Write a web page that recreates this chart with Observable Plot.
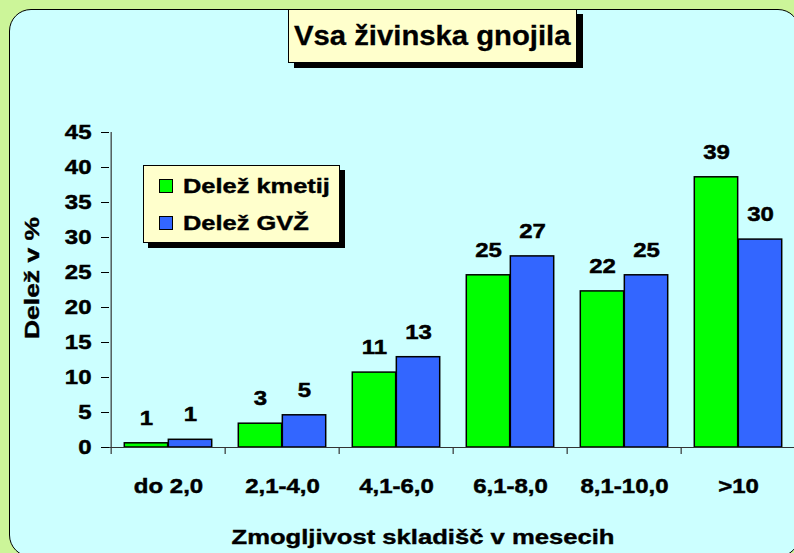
<!DOCTYPE html>
<html>
<head>
<meta charset="utf-8">
<script src="https://cdn.jsdelivr.net/npm/d3@7"></script>
<script src="https://cdn.jsdelivr.net/npm/@observablehq/plot@0.6"></script>
<style>
  html, body { margin: 0; padding: 0; overflow: hidden; background: #CCF599; }
  #wrap { width: 794px; height: 553px; overflow: hidden; position: relative; background: #CCF599;
         font-family: "Liberation Sans", Arial, sans-serif; font-weight: bold; color: #000; }
  #panel { position: absolute; left: 9px; top: 9px; width: 791px; height: 548px; box-sizing: border-box;
           background: #CCFFFF; border: 1.5px solid #000; border-radius: 22px; }
  #chart { position: absolute; left: 0; top: 0; width: 794px; height: 553px; overflow: hidden; }
  #chart svg { max-width: none !important; }
  #title { position: absolute; left: 288px; top: 9px; width: 289px; height: 54px; box-sizing: border-box;
           background: #FFFFCC; border: 1px solid #000; box-shadow: 6px 5px 0 #000;
           font-size: 28px; line-height: 52px; text-align: center; white-space: nowrap; }
  #title span { display: inline-block; transform: scaleX(1.045); -webkit-text-stroke: 0.3px #000; }
  #legend { position: absolute; left: 143px; top: 165px; width: 197px; height: 78px; box-sizing: border-box;
            background: #FFFFCC; border: 1px solid #000; box-shadow: 5px 5px 0 #000; }
  .item { position: absolute; left: 15px; height: 16px; white-space: nowrap; }
  .sw { position: absolute; left: 0; top: 0; width: 14px; height: 14px; border: 1px solid #000; box-sizing: border-box; }
  .lt { position: absolute; left: 24px; top: -4px; font-size: 20.5px; line-height: 22px; transform: scaleX(1.24);
        transform-origin: left center; -webkit-text-stroke: 0.4px #000; }
  .axtitle { position: absolute; font-size: 21px; white-space: nowrap; line-height: 24px; -webkit-text-stroke: 0.4px #000; }
</style>
</head>
<body>
<div id="wrap">
<div id="panel"></div>
<div id="chart"></div>
<div id="title"><span>Vsa živinska gnojila</span></div>
<div id="legend"></div>
<div class="axtitle" id="ytitle" style="left:32px;top:278px;transform:translate(-50%,-50%) rotate(-90deg) scaleX(1.26);">Delež v %</div>
<div class="axtitle" id="xtitle" style="left:423px;top:537px;transform:translate(-50%,-50%) scaleX(1.22);">Zmogljivost skladišč v mesecih</div>
</div>
<script>
// ---- data ----
const categories = ["do 2,0", "2,1-4,0", "4,1-6,0", "6,1-8,0", "8,1-10,0", ">10"];
const sharesFarms = [0.6, 3.4, 10.7, 24.6, 22.3, 38.6];   // Delež kmetij
const sharesLU    = [1.1, 4.6, 12.9, 27.3, 24.6, 29.7];   // Delež GVŽ
const seriesNames = ["Delež kmetij", "Delež GVŽ"];
const seriesColors = ["#00FF00", "#3366FF"];
const yTicks = [0, 5, 10, 15, 20, 25, 30, 35, 40, 45];
const yDomain = [0, 45];

// ---- layout ----
const W = 800, H = 553, mL = 109, mR = 3, mT = 132, mB = 106;
const bw = (W - mL - mR) / categories.length;
const pad = 13.3;
const barW = (bw - 2 * pad) / 2;

const rows = categories.map((c, i) => ({category: c, farms: sharesFarms[i], lu: sharesLU[i]}));
const fontFamily = "'Liberation Sans', Arial, sans-serif";

const chart = Plot.plot({
  width: W, height: H,
  marginLeft: mL, marginRight: mR, marginTop: mT, marginBottom: mB,
  style: {background: "transparent", fontSize: "20px", fontWeight: "bold", fontFamily, color: "#000"},
  x: {domain: categories, padding: 0, tickSize: 0, tickPadding: 31, label: null},
  y: {domain: yDomain, ticks: yTicks, tickSize: 8, tickPadding: 10, label: null},
  marks: [
    Plot.barY(rows, {x: "category", y: "farms", fill: seriesColors[0], stroke: "#000", strokeWidth: 1.5,
                     insetLeft: pad, insetRight: pad + barW}),
    Plot.barY(rows, {x: "category", y: "lu", fill: seriesColors[1], stroke: "#000", strokeWidth: 1.5,
                     insetLeft: pad + barW, insetRight: pad}),
    Plot.ruleY([0], {stroke: "#333", strokeWidth: 1.2}),
    Plot.ruleX(categories, {x: d => d, dx: -bw / 2, y1: (d, i) => i === 0 ? yDomain[1] : 0, y2: 0,
                            insetBottom: -7, stroke: "#333", strokeWidth: 1.2}),
    Plot.text(rows, {x: "category", y: "farms", text: d => String(Math.round(d.farms)), dx: -barW / 2, dy: -25,
                     fontSize: 20, fontWeight: "bold", fill: "#000"}),
    Plot.text(rows, {x: "category", y: "lu", text: d => String(Math.round(d.lu)), dx: barW / 2, dy: -25,
                     fontSize: 20, fontWeight: "bold", fill: "#000"})
  ]
});
chart.style.maxWidth = "none";
chart.style.width = W + "px";
chart.style.height = H + "px";
// the original chart uses a horizontally widened, heavy bold face
chart.querySelectorAll("text").forEach(t => {
  t.setAttribute("transform", ((t.getAttribute("transform") || "") + " scale(1.2,1)").trim());
  t.setAttribute("stroke", "#000");
  t.setAttribute("stroke-width", "0.45");
});
document.getElementById("chart").appendChild(chart);

// ---- legend ----
const legend = document.getElementById("legend");
seriesNames.forEach((name, i) => {
  const item = document.createElement("div");
  item.className = "item";
  item.style.top = (13 + i * 37) + "px";
  const sw = document.createElement("div");
  sw.className = "sw";
  sw.style.background = seriesColors[i];
  const lt = document.createElement("div");
  lt.className = "lt";
  lt.textContent = name;
  item.appendChild(sw); item.appendChild(lt);
  legend.appendChild(item);
});
</script>
</body>
</html>
